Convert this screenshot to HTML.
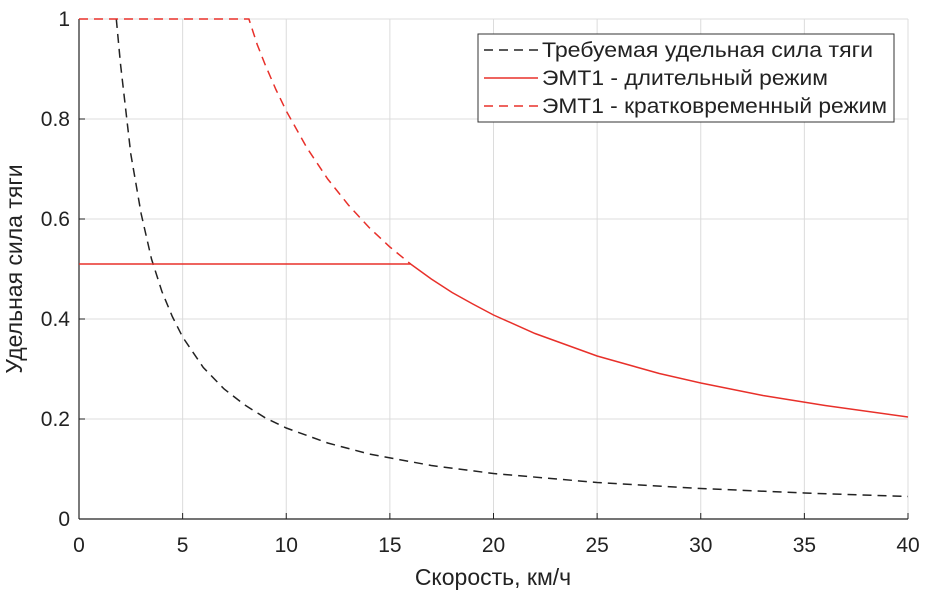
<!DOCTYPE html>
<html><head><meta charset="utf-8"><style>
body{margin:0;background:#fff;}
svg text{font-family:"Liberation Sans",sans-serif;fill:#222;}
</style></head><body>
<svg id="chart" width="939" height="590">
<g id="grid"></g><g id="axes"></g><g id="series"></g><g id="legend"></g>
</svg>
<script>
const xTicks=[0,5,10,15,20,25,30,35,40];
const yTicks=[0,0.2,0.4,0.6,0.8,1];
const yTickLabels=["0","0.2","0.4","0.6","0.8","1"];
const reqV=[1.8,2,2.5,3,3.5,4,4.5,5,6,7,8,9,10,12,14,17,20,25,30,35,40];
const reqF=[1.0,0.91,0.73,0.61,0.52,0.455,0.405,0.364,0.303,0.26,0.228,0.202,0.182,0.152,0.13,0.107,0.091,0.073,0.061,0.052,0.045];
const contV=[0,16,17,18,19,20,22,25,28,30,33,36,40];
const contF=[0.51,0.51,0.48,0.453,0.43,0.408,0.371,0.326,0.291,0.272,0.247,0.227,0.204];
const shortV=[0,8.2,8.6,9,9.5,10,11,12,13,14,15,16];
const shortF=[1,1,0.949,0.907,0.859,0.816,0.742,0.68,0.628,0.583,0.544,0.51];
const NS="http://www.w3.org/2000/svg";
const X=v=>79+v*(908-79)/40, Y=f=>519-f*500;
function mk(t,a,p){const e=document.createElementNS(NS,t);for(const k in a)e.setAttribute(k,a[k]);p.appendChild(e);return e;}
const grid=document.getElementById('grid'),axes=document.getElementById('axes'),ser=document.getElementById('series'),leg=document.getElementById('legend');
xTicks.forEach(v=>{const l=mk('line',{x1:X(v),x2:X(v),y1:Y(0),y2:Y(1),stroke:'#dcdcdc','stroke-width':1},grid);

mk('line',{x1:X(v),x2:X(v),y1:Y(0),y2:Y(0)-6,stroke:'#222'},axes);
const t=mk('text',{x:X(v),y:552,'text-anchor':'middle','font-size':21},axes);t.textContent=v;
});
yTicks.forEach((f,i)=>{const l=mk('line',{x1:X(0),x2:X(40),y1:Y(f),y2:Y(f),stroke:'#dcdcdc','stroke-width':1},grid);

mk('line',{x1:X(0),x2:X(0)+6,y1:Y(f),y2:Y(f),stroke:'#222'},axes);
const t=mk('text',{x:70,y:Y(f)+7,'text-anchor':'end','font-size':21},axes);t.textContent=yTickLabels[i];
});
const xa=mk('line',{x1:X(0),x2:X(40),y1:Y(0),y2:Y(0),stroke:'#222','stroke-width':1.2},axes);

const ya=mk('line',{x1:X(0),x2:X(0),y1:Y(0),y2:Y(1),stroke:'#222','stroke-width':1.2},axes);

const xt=mk('text',{x:493,y:585,'text-anchor':'middle','font-size':23},axes);xt.textContent='Скорость, км/ч';

const yt=mk('text',{x:0,y:0,'text-anchor':'middle','font-size':23,transform:'translate(22,269) rotate(-90)'},axes);yt.textContent='Удельная сила тяги';

function path(vs,fs,color,dash,name){const d=vs.map((v,i)=>(i?'L':'M')+X(v).toFixed(1)+','+Y(fs[i]).toFixed(1)).join(' ');
const p=mk('path',{d:d,fill:'none',stroke:color,'stroke-width':1.5,'stroke-dasharray':dash||'none'},ser);
}
path(reqV,reqF,'#222','9,6','required-force-line');
path(contV,contF,'#e8302a',null,'continuous-mode-line');
path(shortV,shortF,'#e8302a','9,6','short-term-mode-line');
const box=mk('rect',{x:478,y:34,width:416,height:88,fill:'#fff',stroke:'#333','stroke-width':1},leg);

const entries=[['Требуемая удельная сила тяги','#222','9,6',331],['ЭМТ1 - длительный режим','#e8302a',null,286],['ЭМТ1 - кратковременный режим','#e8302a','9,6',345]];
entries.forEach((e,i)=>{const y=50+i*28;
mk('line',{x1:484,x2:538,y1:y,y2:y,stroke:e[1],'stroke-width':1.5,'stroke-dasharray':e[2]||'none'},leg);
const t=mk('text',{x:542,y:y+7,'font-size':21,textLength:e[3],lengthAdjust:'spacingAndGlyphs'},leg);t.textContent=e[0];
});
</script>
</body></html>
